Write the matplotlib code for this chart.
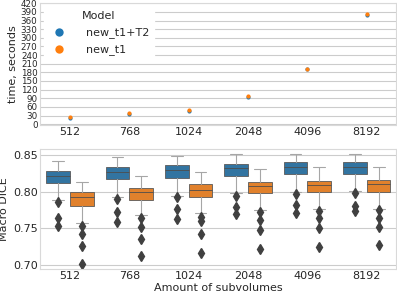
import matplotlib
matplotlib.use("Agg")
import matplotlib.pyplot as plt
import seaborn as sns

sns.set_style("whitegrid")
plt.rcParams["font.family"] = ["DejaVu Sans"]

subvolumes = ["512", "768", "1024", "2048", "4096", "8192"]
models = ["new_t1+T2", "new_t1"]

# inference time, seconds
time_t1t2 = [23, 36, 47, 96, 191, 380]
time_t1 = [24, 38, 49, 97, 192, 381]

# box stats per subvolume: (whislo, q1, med, q3, whishi)
box_t1t2 = [
    (0.788, 0.811, 0.821, 0.8275, 0.841),
    (0.793, 0.8165, 0.826, 0.833, 0.8465),
    (0.7945, 0.819, 0.8297, 0.8356, 0.848),
    (0.798, 0.821, 0.8318, 0.838, 0.8505),
    (0.800, 0.8235, 0.833, 0.8397, 0.8505),
    (0.8005, 0.8238, 0.8337, 0.8397, 0.8505),
]
box_t1 = [
    (0.757, 0.781, 0.792, 0.799, 0.8125),
    (0.768, 0.789, 0.800, 0.805, 0.8207),
    (0.771, 0.793, 0.802, 0.810, 0.826),
    (0.7752, 0.798, 0.8075, 0.8125, 0.830),
    (0.7763, 0.799, 0.8093, 0.8143, 0.8333),
    (0.7763, 0.7995, 0.8106, 0.8157, 0.8333),
]
fliers_t1t2 = [
    [0.786, 0.764, 0.753],
    [0.790, 0.772, 0.759],
    [0.793, 0.776, 0.763],
    [0.7944, 0.7795, 0.770],
    [0.796, 0.7817, 0.771],
    [0.7975, 0.781, 0.773],
]
fliers_t1 = [
    [0.753, 0.7425, 0.726, 0.702],
    [0.764, 0.752, 0.7352, 0.713],
    [0.765, 0.760, 0.742, 0.717],
    [0.772, 0.7615, 0.748, 0.7225],
    [0.7732, 0.764, 0.751, 0.7252],
    [0.7748, 0.764, 0.7523, 0.7275],
]

point_colors = ["#1f77b4", "#ff7f0e"]
box_colors = ["#3274a1", "#e1812c"]
text_c = "0.15"

fig = plt.figure(figsize=(3.97, 2.97), dpi=100)
ax1 = fig.add_axes([0.1015, 0.580, 0.897, 0.410])
ax2 = fig.add_axes([0.1015, 0.094, 0.897, 0.404])

x = list(range(len(subvolumes)))

# top: timing
ax1.scatter(x, time_t1t2, s=9, color=point_colors[0], label=models[0], zorder=3, linewidths=0)
ax1.scatter(x, time_t1, s=9, color=point_colors[1], label=models[1], zorder=3, linewidths=0)
ax1.set_xlim(-0.5, 5.5)
ax1.set_ylim(-2, 421)
ax1.set_yticks(range(0, 421, 30))
ax1.set_xticks(x)
ax1.set_xticklabels(subvolumes)
ax1.set_ylabel("time, seconds", fontsize=8, color=text_c, labelpad=2)
ax1.grid(axis="x", visible=False)
leg = ax1.legend(title="Model", loc="upper left", bbox_to_anchor=(0.0, 1.0),
                 fontsize=8, title_fontsize=8, markerscale=2.0,
                 frameon=True, edgecolor="white", framealpha=1,
                 handletextpad=1.4, borderaxespad=0.3, labelspacing=0.55)
for t in leg.get_texts():
    t.set_color(text_c)
leg.get_title().set_color(text_c)

# bottom: dice boxplots
def make_stats(boxes, fliers):
    out = []
    for (lo, q1, med, q3, hi), fl in zip(boxes, fliers):
        out.append(dict(whislo=lo, q1=q1, med=med, q3=q3, whishi=hi, fliers=fl))
    return out

for k, (boxes, fl, col) in enumerate([(box_t1t2, fliers_t1t2, box_colors[0]),
                                      (box_t1, fliers_t1, box_colors[1])]):
    pos = [i - 0.2 + 0.4 * k for i in x]
    ax2.bxp(make_stats(boxes, fl), positions=pos, widths=0.4, patch_artist=True,
            boxprops=dict(facecolor=col, edgecolor="0.35", linewidth=0.6),
            medianprops=dict(color="0.3", linewidth=0.6),
            whiskerprops=dict(color="0.65", linewidth=0.8),
            capprops=dict(color="0.65", linewidth=0.8),
            flierprops=dict(marker="d", markerfacecolor="0.25", markeredgecolor="0.25",
                            markersize=5),
            capwidths=0.2, manage_ticks=False)

ax2.set_xlim(-0.5, 5.5)
ax2.set_ylim(0.6946, 0.8577)
ax2.set_yticks([0.70, 0.75, 0.80, 0.85])
ax2.set_xticks(x)
ax2.set_xticklabels(subvolumes)
ax2.set_ylabel("Macro DICE", fontsize=8, color=text_c, labelpad=3)
ax2.set_xlabel("Amount of subvolumes", fontsize=8, color=text_c, labelpad=1)
ax2.grid(axis="x", visible=False)

for ax in (ax1, ax2):
    ax.tick_params(labelsize=8, colors=text_c, pad=1.5, length=0)
    for s in ax.spines.values():
        s.set_color("0.85")
ax1.tick_params(axis="y", labelsize=6.3, pad=2)

fig.savefig("out.png", dpi=100)
